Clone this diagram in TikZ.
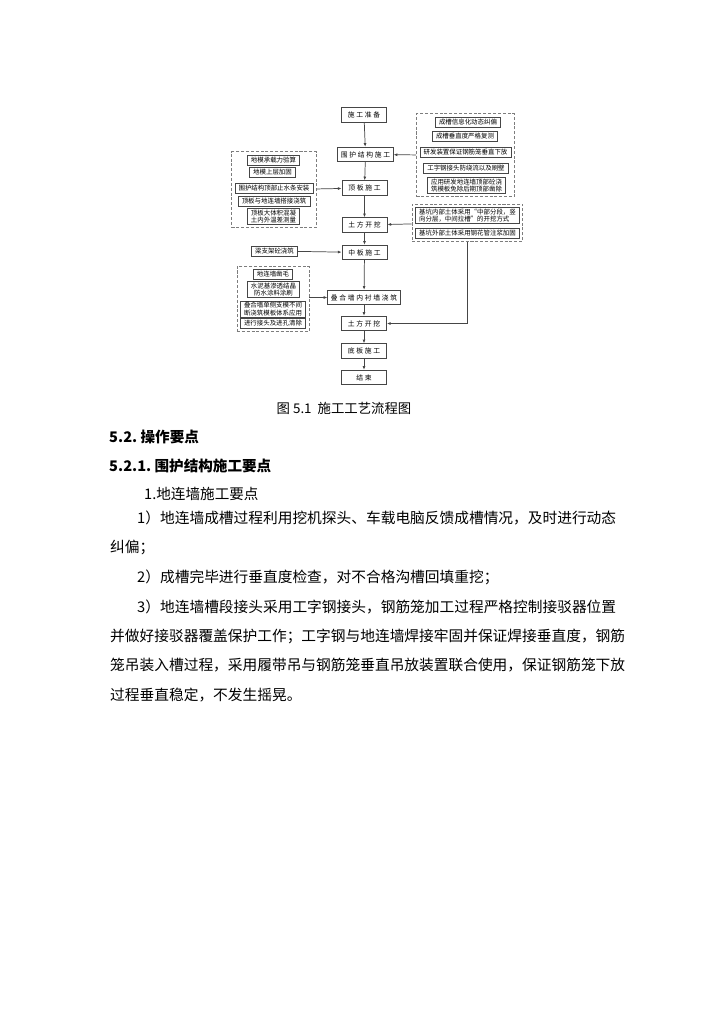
\documentclass[tikz,border=0pt]{standalone}
\usepackage{fontspec}
\setmainfont{Noto Sans CJK SC}
\newfontfamily\spacedcjk[LetterSpace=25]{Noto Sans CJK SC}
\usepackage{tikz}
\usetikzlibrary{arrows.meta, positioning, fit}
\usepackage{xcolor}
\definecolor{lineg}{RGB}{70, 70, 70}
\definecolor{dashg}{RGB}{125, 125, 125}

\begin{document}
\begin{tikzpicture}[x=0.8225pt, y=-0.8225pt, >={Latex[length=3pt, width=2.4pt]},
    mainbox/.style={rectangle, draw=lineg, line width=0.7pt, minimum width=37pt, minimum height=12pt, inner xsep=2.5pt, font=\spacedcjk\fontsize{5.6}{7}\selectfont},
    subbox/.style={rectangle, draw=lineg, line width=0.6pt, minimum height=8pt, inner xsep=3pt, inner ysep=1pt, align=center, font=\fontsize{5.3}{6.2}\selectfont},
    groupbox/.style={rectangle, draw=dashg, line width=0.7pt, dash pattern=on 2.5pt off 1.5pt, inner sep=2.5pt},
    flow/.style={->, draw=lineg, line width=0.6pt},
    bodytext/.style={anchor=west, inner sep=0pt, font=\fontsize{12.1}{14}\selectfont},
    headtext/.style={anchor=west, inner sep=0pt, font=\fontsize{12}{14}\selectfont\bfseries}]

    \fill[white] (0,0) rectangle (724,1024);
    \useasboundingbox (0,0) rectangle (724,1024);

    % main flow
    \node[mainbox] (prep) at (364,115) {施工准备};
    \node[mainbox] (wall) at (365.5,154.5) {围护结构施工};
    \node[mainbox] (roof) at (364.5,188) {顶板施工};
    \node[mainbox] (dig1) at (364.5,225) {土方开挖};
    \node[mainbox] (mid) at (364.5,252.5) {中板施工};
    \node[mainbox] (lining) at (364,297.5) {叠合墙内衬墙浇筑};
    \node[mainbox] (dig2) at (364,323.5) {土方开挖};
    \node[mainbox] (base) at (364,351) {底板施工};
    \node[mainbox] (done) at (364,377.5) {结束};

    \foreach \a/\b in {prep/wall, wall/roof, roof/dig1, dig1/mid, mid/lining, lining/dig2, dig2/base, base/done}
      \draw[flow] (\a) -- (\b);

    % left group: roof slab
    \node[subbox] (lg1a) at (273.5,160) {地模承载力验算};
    \node[subbox] (lg1b) at (272.5,172.5) {地模上层加固};
    \node[subbox] (lg1c) at (274,188) {围护结构顶部止水条安装};
    \node[subbox] (lg1d) at (274,201) {顶板与地连墙搭接浇筑};
    \node[subbox] (lg1e) at (273.5,216.5) {顶板大体积混凝\\土内外温差测量};
    \node[groupbox, fit=(lg1a)(lg1b)(lg1c)(lg1d)(lg1e)] (lg1) {};

    % right group: retaining wall
    \node[subbox] (rg1a) at (468,122) {成槽信息化动态纠偏};
    \node[subbox] (rg1b) at (465,136) {成槽垂直度严格复测};
    \node[subbox] (rg1c) at (465.5,152.5) {研发装置保证钢筋笼垂直下放};
    \node[subbox] (rg1d) at (466,168) {工字钢接头防绕流以及刷壁};
    \node[subbox] (rg1e) at (466.5,185.5) {应用研发地连墙顶部砼浇\\筑模板免除后期顶部凿除};
    \node[groupbox, fit=(rg1a)(rg1b)(rg1c)(rg1d)(rg1e)] (rg1) {};

    % right group: excavation
    \node[subbox, align=left] (rg2a) at (467.5,215.5) {基坑内部土体采用“中部分段，竖\\向分层，中间拉槽”的开挖方式};
    \node[subbox] (rg2b) at (467.5,233) {基坑外部土体采用钢花管注浆加固};
    \node[groupbox, fit=(rg2a)(rg2b)] (rg2) {};

    % left single
    \node[subbox] (ls) at (274.5,251) {梁支架砼浇筑};

    % left group: lining wall
    \node[subbox] (lg2a) at (273,274.5) {地连墙凿毛};
    \node[subbox] (lg2b) at (273.5,289.5) {水泥基渗透结晶\\防水涂料涂刷};
    \node[subbox] (lg2c) at (273,309) {叠合墙单侧支模不间\\断浇筑模板体系应用};
    \node[subbox] (lg2d) at (273,323.5) {进行接头及进孔清除};
    \node[groupbox, fit=(lg2a)(lg2b)(lg2c)(lg2d)] (lg2) {};

    \draw[flow] (lg1) -- (roof);
    \draw[flow] (rg1) -- (wall);
    \draw[flow] (rg2) -- (dig1);
    \draw[flow] (ls) -- (mid);
    \draw[flow] (lg2.east |- lining) -- (lining);
    \draw[flow] (rg2.south) |- (dig2);

    % text below the chart
    \node[inner sep=0pt, font=\fontsize{11}{12}\selectfont] (caption) at (344,408) {图 5.1\ \ 施工工艺流程图};
    \node[headtext] (head1) at (109,437) {5.2.\ 操作要点};
    \node[headtext] (head2) at (109,466) {5.2.1.\ 围护结构施工要点};
    \node[bodytext, font=\fontsize{12}{14}\selectfont] (head3) at (144,494) {1.地连墙施工要点};
    \node[bodytext] (para1) at (137,518) {1）地连墙成槽过程利用挖机探头、车载电脑反馈成槽情况，及时进行动态};
    \node[bodytext] (para2) at (110,547.5) {纠偏；};
    \node[bodytext] (para3) at (137,577) {2）成槽完毕进行垂直度检查，对不合格沟槽回填重挖；};
    \node[bodytext] (para4) at (137,606.5) {3）地连墙槽段接头采用工字钢接头，钢筋笼加工过程严格控制接驳器位置};
    \node[bodytext] (para5) at (110,636) {并做好接驳器覆盖保护工作；工字钢与地连墙焊接牢固并保证焊接垂直度，钢筋};
    \node[bodytext] (para6) at (110,665.5) {笼吊装入槽过程，采用履带吊与钢筋笼垂直吊放装置联合使用，保证钢筋笼下放};
    \node[bodytext] (para7) at (110,695) {过程垂直稳定，不发生摇晃。};
  \end{tikzpicture}
\end{document}
